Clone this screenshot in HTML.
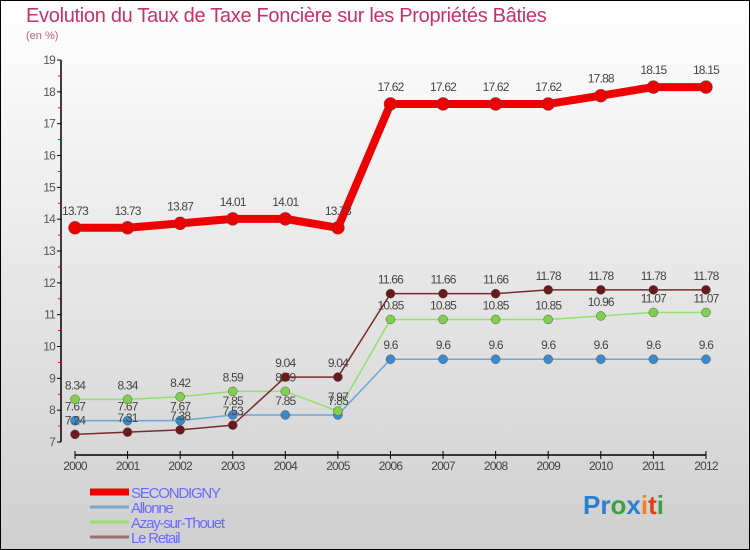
<!DOCTYPE html>
<html><head><meta charset="utf-8">
<style>
html,body{margin:0;padding:0}
body{width:750px;height:550px;overflow:hidden;font-family:"Liberation Sans",sans-serif}
svg{display:block}
</style></head>
<body>
<svg id="chart" width="750" height="550" xmlns="http://www.w3.org/2000/svg">
<defs>
<linearGradient id="bg" x1="0" y1="0" x2="0" y2="1">
<stop offset="0" stop-color="#ffffff"/><stop offset="1" stop-color="#cfcfcf"/>
</linearGradient>
</defs>
<rect x="0.5" y="0.5" width="749" height="549" fill="url(#bg)" stroke="#000"/>
<text x="26" y="22" font-size="20" fill="#c8306a" letter-spacing="-0.3">Evolution du Taux de Taxe Foncière sur les Propriétés Bâties</text>
<text x="26" y="39" font-size="11" fill="#c06080">(en %)</text>
<g id="axes"></g>
<g id="series"></g>
<g id="legend"></g>
<text x="583" y="514" font-size="26" font-weight="bold"><tspan fill="#2a7fd0">Pr</tspan><tspan fill="#3aa040">o</tspan><tspan fill="#2a7fd0">x</tspan><tspan fill="#f08020">i</tspan><tspan fill="#e04020">t</tspan><tspan fill="#3aa040">i</tspan></text>
</svg>
<script>
const years = ["2000","2001","2002","2003","2004","2005","2006","2007","2008","2009","2010","2011","2012"];
const yTicks = [7,8,9,10,11,12,13,14,15,16,17,18,19];
const secondigny = [13.73,13.73,13.87,14.01,14.01,13.73,17.62,17.62,17.62,17.62,17.88,18.15,18.15];
const allonne = [7.67,7.67,7.67,7.85,7.85,7.85,9.6,9.6,9.6,9.6,9.6,9.6,9.6];
const azay = [8.34,8.34,8.42,8.59,8.59,7.97,10.85,10.85,10.85,10.85,10.96,11.07,11.07];
const leRetail = [7.24,7.31,7.38,7.53,9.04,9.04,11.66,11.66,11.66,11.78,11.78,11.78,11.78];
const seriesNames = ["SECONDIGNY","Allonne","Azay-sur-Thouet","Le Retail"];

const NS="http://www.w3.org/2000/svg";
const X0=75, XSTEP=52.58, Y0=442, YMIN=7, YUNIT=31.83;
function xs(i){return X0+i*XSTEP;}
function ys(v){return Y0-(v-YMIN)*YUNIT;}
function mk(tag,attrs,parent){const e=document.createElementNS(NS,tag);for(const k in attrs)e.setAttribute(k,attrs[k]);parent.appendChild(e);return e;}
function fmt(v){return String(v);}

const axes=document.getElementById('axes');
const yAxis=mk('line',{x1:61,y1:ys(19),x2:61,y2:Y0,stroke:'#000','stroke-width':1.5},axes);


const xAxis=mk('line',{x1:X0,y1:455,x2:xs(12),y2:455,stroke:'#000','stroke-width':1.5},axes);


yTicks.forEach((t,i)=>{
  const y=ys(t);
  mk('line',{x1:57,y1:y,x2:61,y2:y,stroke:'#000'},axes);
  if(i<yTicks.length-1){mk('line',{x1:58,y1:y-YUNIT/2,x2:61,y2:y-YUNIT/2,stroke:'#e00'},axes);}
  const tx=mk('text',{x:55,y:y+4,'font-size':12,fill:'#555','text-anchor':'end','letter-spacing':'-0.8'},axes);
  tx.textContent=t;
  
  
});
years.forEach((yr,i)=>{
  const x=xs(i);
  mk('line',{x1:x,y1:451,x2:x,y2:459,stroke:'#000'},axes);
  const tx=mk('text',{x:x,y:470,'font-size':12,fill:'#444','text-anchor':'middle','letter-spacing':'-0.8'},axes);
  tx.textContent=yr;
  
  
});

const sg=document.getElementById('series');
function drawSeries(vals,color,dot,width,r,name,off){
  const g=mk('g',{},sg);
  
  
  const pts=vals.map((v,i)=>xs(i)+','+ys(v)).join(' ');
  const ln=mk('polyline',{points:pts,fill:'none',stroke:color,'stroke-width':width,'stroke-linejoin':'round'},g);
  
  
  vals.forEach((v,i)=>{
    const c=mk('circle',{cx:xs(i),cy:ys(v),r:r,fill:dot,stroke:'#555','stroke-width':0.5},g);
    
    
    const t=mk('text',{x:xs(i),y:ys(v)-off,'font-size':12,fill:'#444','text-anchor':'middle','letter-spacing':'-0.8'},g);
    t.textContent=fmt(v);
    
    
  });
}
drawSeries(allonne,'#6aa8d8','#3a8ad0',1.5,4.5,'allonne',10);
drawSeries(azay,'#90e070','#80d050',1.5,4.5,'azay-sur-thouet',10);
drawSeries(leRetail,'#7a2a2a','#6a1a1a',1.5,4.5,'le-retail',10);
drawSeries(secondigny,'#ee0000','#ee0000',8,6.5,'secondigny',13);

const lg=document.getElementById('legend');
const lcol=['#ee0000','#7aaacc','#99dd77','#997070'];
const lw=[7,3,3,3];
seriesNames.forEach((n,i)=>{
  const y=492+i*15;
  const g=mk('g',{},lg);
  
  
  mk('line',{x1:90,y1:y,x2:129,y2:y,stroke:lcol[i],'stroke-width':lw[i]},g);
  const t=mk('text',{x:131,y:y+6,'font-size':15,fill:'#6a6aff','letter-spacing':'-1.2'},g);
  t.textContent=n;
});
</script>
</body></html>
